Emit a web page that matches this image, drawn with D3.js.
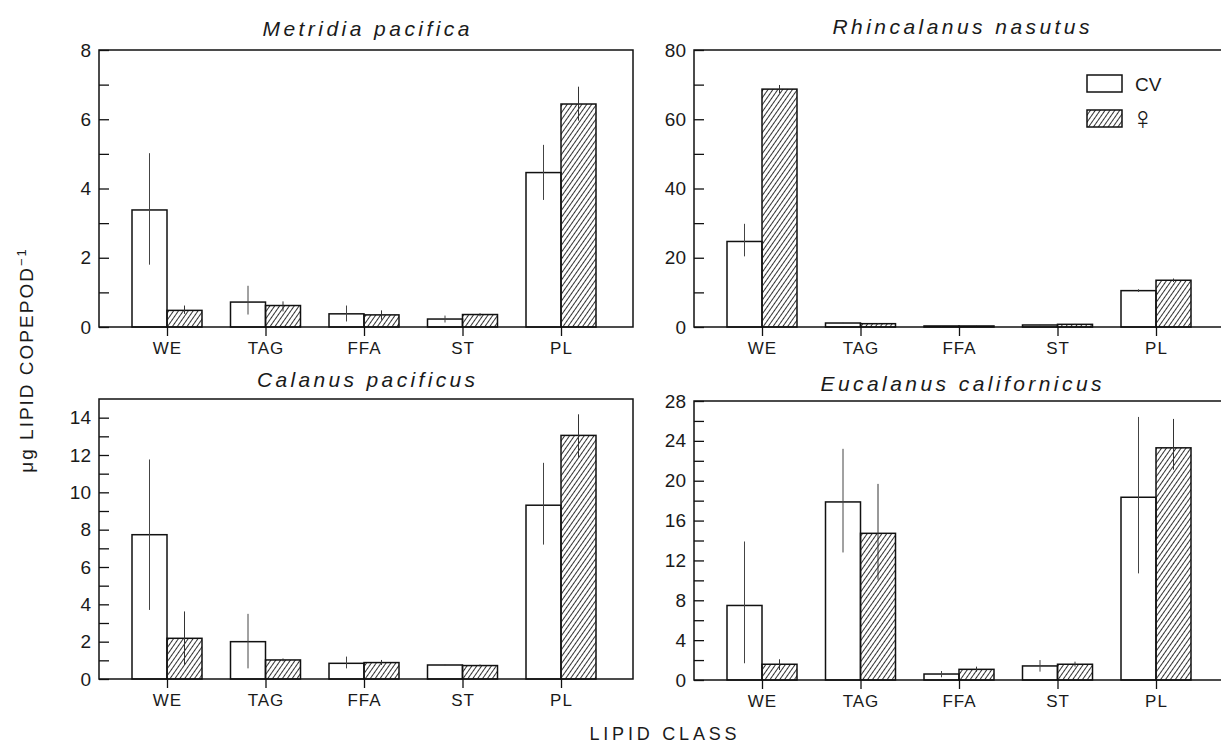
<!DOCTYPE html>
<html>
<head>
<meta charset="utf-8">
<script src="https://cdn.jsdelivr.net/npm/d3@7"></script>
<style>
  body { margin: 0; background: #fff; }
  text { font-family: "Liberation Sans", Arial, sans-serif; fill: #1a1a1a; }
</style>
</head>
<body>
<svg id="chart" width="1221" height="745"></svg>
<script>
// lipid classes on the x axis
const classes = ['WE', 'TAG', 'FFA', 'ST', 'PL'];

// Metridia pacifica
const metridiaCV = [3.38, 0.72, 0.38, 0.23, 4.46];
const metridiaCVLow = [1.8, 0.36, 0.16, 0.13, 3.67];
const metridiaCVHigh = [5.02, 1.19, 0.62, 0.33, 5.26];
const metridiaF = [0.48, 0.62, 0.35, 0.36, 6.44];
const metridiaFLow = [0.38, 0.45, 0.21, 0.31, 5.96];
const metridiaFHigh = [0.62, 0.74, 0.48, 0.40, 6.94];

// Rhincalanus nasutus
const rhincalanusCV = [24.7, 1.15, 0.3, 0.58, 10.5];
const rhincalanusCVLow = [20.4, 1.0, 0.2, 0.45, 10.1];
const rhincalanusCVHigh = [29.8, 1.3, 0.4, 0.7, 10.9];
const rhincalanusF = [68.7, 0.96, 0.3, 0.77, 13.5];
const rhincalanusFLow = [67.5, 0.8, 0.2, 0.6, 13.0];
const rhincalanusFHigh = [69.9, 1.1, 0.4, 0.9, 14.0];

// Calanus pacificus
const calanusCV = [7.73, 2.0, 0.84, 0.75, 9.31];
const calanusCVLow = [3.7, 0.57, 0.57, 0.7, 7.2];
const calanusCVHigh = [11.76, 3.49, 1.2, 0.8, 11.58];
const calanusF = [2.18, 1.02, 0.88, 0.72, 13.05];
const calanusFLow = [0.75, 0.95, 0.75, 0.68, 11.85];
const calanusFHigh = [3.62, 1.1, 1.02, 0.78, 14.18];

// Eucalanus californicus
const eucalanusCV = [7.48, 17.87, 0.6, 1.41, 18.34];
const eucalanusCVLow = [1.68, 12.8, 0.27, 0.84, 10.7];
const eucalanusCVHigh = [13.9, 23.2, 0.9, 2.0, 26.4];
const eucalanusF = [1.58, 14.72, 1.07, 1.58, 23.3];
const eucalanusFLow = [1.0, 10.06, 0.84, 1.34, 21.1];
const eucalanusFHigh = [2.08, 19.68, 1.34, 1.84, 26.2];

// axis settings per panel
const yMaxes = [8, 80, 15, 28];
const yLabelMaxes = [8, 80, 14, 28];
const yLabelSteps = [2, 20, 2, 4];
const titles = ['Metridia pacifica', 'Rhincalanus nasutus', 'Calanus pacificus', 'Eucalanus californicus'];

const svg = d3.select('#chart');

// diagonal hatch for the female bars (steep "/" lines)
svg.append('defs').append('pattern')
    .attr('id', 'hatch')
    .attr('patternUnits', 'userSpaceOnUse')
    .attr('width', 4).attr('height', 4)
    .attr('patternTransform', 'rotate(35)')
  .append('line')
    .attr('x1', 0.5).attr('y1', 0).attr('x2', 0.5).attr('y2', 4)
    .attr('stroke', '#333').attr('stroke-width', 1);

const panels = [
  { cv: metridiaCV, cvLo: metridiaCVLow, cvHi: metridiaCVHigh, f: metridiaF, fLo: metridiaFLow, fHi: metridiaFHigh,
    left: 99, right: 633, top: 50, bottom: 327, titleY: 36, titleW: 207 },
  { cv: rhincalanusCV, cvLo: rhincalanusCVLow, cvHi: rhincalanusCVHigh, f: rhincalanusF, fLo: rhincalanusFLow, fHi: rhincalanusFHigh,
    left: 694, right: 1240, top: 50, bottom: 327, titleY: 34, titleW: 257 },
  { cv: calanusCV, cvLo: calanusCVLow, cvHi: calanusCVHigh, f: calanusF, fLo: calanusFLow, fHi: calanusFHigh,
    left: 99, right: 633, top: 399, bottom: 679, titleY: 387, titleW: 218 },
  { cv: eucalanusCV, cvLo: eucalanusCVLow, cvHi: eucalanusCVHigh, f: eucalanusF, fLo: eucalanusFLow, fHi: eucalanusFHigh,
    left: 694, right: 1240, top: 401, bottom: 680, titleY: 391, titleW: 281 },
];

panels.forEach((p, idx) => {
  const g = svg.append('g');
  const x = d3.scalePoint().domain(classes).range([p.left + 68, p.left + 462]);
  const y = d3.scaleLinear().domain([0, yMaxes[idx]]).range([p.bottom, p.top]);
  const bw = 35;

  // title
  g.append('text')
    .attr('x', p.left + 267).attr('y', p.titleY)
    .attr('text-anchor', 'middle')
    .attr('font-size', 21).attr('font-style', 'italic')
    .attr('textLength', p.titleW).attr('lengthAdjust', 'spacing')
    .text(titles[idx]);

  // bars
  classes.forEach((c, i) => {
    g.append('rect')
      .attr('x', x(c) - bw).attr('y', y(p.cv[i]))
      .attr('width', bw).attr('height', y(0) - y(p.cv[i]))
      .attr('fill', '#fff').attr('stroke', '#111').attr('stroke-width', 1.5);
    g.append('rect')
      .attr('x', x(c)).attr('y', y(p.f[i]))
      .attr('width', bw).attr('height', y(0) - y(p.f[i]))
      .attr('fill', 'url(#hatch)').attr('stroke', '#111').attr('stroke-width', 1.5);
    // error bars, no caps
    g.append('line')
      .attr('x1', x(c) - bw / 2).attr('x2', x(c) - bw / 2)
      .attr('y1', y(p.cvLo[i])).attr('y2', y(p.cvHi[i]))
      .attr('stroke', '#444').attr('stroke-width', 1);
    g.append('line')
      .attr('x1', x(c) + bw / 2).attr('x2', x(c) + bw / 2)
      .attr('y1', y(p.fLo[i])).attr('y2', y(p.fHi[i]))
      .attr('stroke', '#333').attr('stroke-width', 1);
  });

  // frame
  g.append('rect')
    .attr('x', p.left).attr('y', p.top)
    .attr('width', p.right - p.left).attr('height', p.bottom - p.top)
    .attr('fill', 'none').attr('stroke', '#111').attr('stroke-width', 1.5);

  // y axis: labelled ticks and unlabelled ticks in between, all pointing inward
  const step = yLabelSteps[idx];
  const yAxis = d3.axisLeft(y)
    .tickValues(d3.range(0, yLabelMaxes[idx] + 0.001, step))
    .tickSize(-10).tickPadding(8)
    .tickFormat(d3.format('d'));
  const ya = g.append('g').attr('transform', `translate(${p.left},0)`).call(yAxis);
  ya.select('.domain').remove();
  ya.selectAll('text').attr('font-size', 19).attr('font-family', '"Liberation Sans", Arial, sans-serif');
  const yMinor = d3.axisLeft(y)
    .tickValues(d3.range(step / 2, yMaxes[idx], step))
    .tickSize(-10).tickFormat('');
  const ym = g.append('g').attr('transform', `translate(${p.left},0)`).call(yMinor);
  ym.select('.domain').remove();
  g.selectAll('.tick line').attr('stroke', '#111').attr('stroke-width', 1.3);

  // x axis: ticks point down
  const xAxis = d3.axisBottom(x).tickSize(9).tickPadding(6);
  const xa = g.append('g').attr('transform', `translate(0,${p.bottom})`).call(xAxis);
  xa.select('.domain').remove();
  xa.selectAll('.tick line').attr('stroke', '#111').attr('stroke-width', 1.3);
  xa.selectAll('text').attr('font-size', 17).attr('letter-spacing', 1)
    .attr('font-family', '"Liberation Sans", Arial, sans-serif');
});

// legend inside Rhincalanus panel
const legend = svg.append('g');
legend.append('rect').attr('x', 1087).attr('y', 75).attr('width', 35).attr('height', 17)
  .attr('fill', '#fff').attr('stroke', '#111').attr('stroke-width', 1.5);
legend.append('rect').attr('x', 1087).attr('y', 110).attr('width', 35).attr('height', 17)
  .attr('fill', 'url(#hatch)').attr('stroke', '#111').attr('stroke-width', 1.5);
legend.append('text').attr('x', 1135).attr('y', 91).attr('font-size', 19).text('CV');
legend.append('text').attr('x', 1143).attr('y', 129).attr('text-anchor', 'middle')
  .attr('font-size', 32)
  .attr('font-family', '"DejaVu Sans", sans-serif').text('♀');

// shared axis titles
svg.append('text')
  .attr('x', 663).attr('y', 740)
  .attr('text-anchor', 'middle').attr('font-size', 18)
  .attr('textLength', 147).attr('lengthAdjust', 'spacing')
  .text('LIPID CLASS');

const yTitle = svg.append('text')
  .attr('transform', 'translate(33,360) rotate(-90)')
  .attr('text-anchor', 'middle').attr('font-size', 19).attr('letter-spacing', 2);
yTitle.append('tspan').text('μg LIPID COPEPOD');
yTitle.append('tspan').attr('baseline-shift', 'super').attr('font-size', 13).text('−1');
</script>
</body>
</html>
